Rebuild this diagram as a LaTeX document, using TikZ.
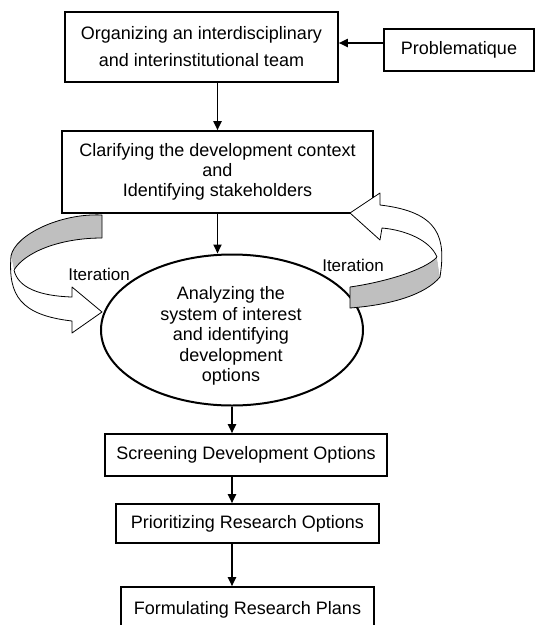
\documentclass[tikz,border=0pt]{standalone}
\usepackage{fontspec}
\setmainfont{Liberation Sans}
\usetikzlibrary{arrows.meta,shapes.geometric,calc}
\begin{document}
\begin{tikzpicture}[x=1pt,y=-1pt,
  box/.style={draw,line width=1.6pt,inner sep=0pt,align=center,font=\fontsize{18}{20}\selectfont},
  arr/.style={line width=1.8pt,-{Triangle[length=9pt,width=8pt]}},
  ribbon/.style={draw,line width=0.8pt,line join=round},
  shade/.style={fill=black!25},
  lbl/.style={font=\fontsize{17}{20}\selectfont,inner sep=0pt}]
\useasboundingbox (0,0) rectangle (535,625);
\clip (0,0) rectangle (535,625);

% boxes
\node[box,minimum width=273pt,minimum height=70pt,font=\fontsize{18}{27}\selectfont] (b1) at (201.5,47) {Organizing an interdisciplinary\\and interinstitutional team};
\node[box,minimum width=150pt,minimum height=42pt] (p) at (459,50) {Problematique};
\node[box,minimum width=311pt,minimum height=82pt] (b2) at (217.5,172) {Clarifying the development context\\and\\Identifying stakeholders};
\node[draw,ellipse,line width=2pt,minimum width=262pt,minimum height=151pt,inner sep=0pt] (e) at (232,330) {};
\node[align=center,inner sep=0pt,font=\fontsize{18}{20.5}\selectfont] (et) at (231,336) {Analyzing the\\system of interest\\and identifying\\development\\options};
\node[box,minimum width=282pt,minimum height=42pt] (b3) at (246,455) {Screening Development Options};
\node[box,minimum width=263pt,minimum height=39pt] (b4) at (247.5,523.5) {Prioritizing Research Options};
\node[box,minimum width=253pt,minimum height=45pt] (b5) at (247.5,609.5) {Formulating Research Plans};

% straight arrows
\draw[arr] ([yshift=4pt]p.west |- b1.east) -- ([yshift=4pt]b1.east);
\draw[arr] (b1.south -| b2.north) -- (b2.north);
\draw[arr] (b2.south) -- (b2.south |- e.north);
\draw[arr] (e.south) -- (e.south |- b3.north);
\draw[arr] (b3.south -| e.south) -- (b4.north -| e.south);
\draw[arr] (b4.south -| e.south) -- (b5.north -| e.south);

% left iteration ribbon
\fill[shade] (102,215) .. controls (60,213) and (15,235) .. (11,256) -- (14,270) .. controls (25,252) and (60,238) .. (102,238) -- cycle;
\draw[ribbon] (102,238) -- (102,215) .. controls (60,213) and (15,235) .. (11,256);
\draw[ribbon] (14,270) .. controls (25,252) and (60,238) .. (102,238);
\draw[ribbon,fill=white] (11,256) .. controls (8,295) and (20,315) .. (72,321) -- (72,333) -- (102,312) -- (72,287) -- (72,297) .. controls (40,296) and (18,288) .. (14,270);

% right iteration ribbon
\fill[shade] (350,287) .. controls (385,282) and (425,270) .. (437,257) -- (440,277) .. controls (425,295) and (390,305) .. (350,308) -- cycle;
\draw[ribbon] (350,287) .. controls (385,282) and (425,270) .. (437,257);
\draw[ribbon] (440,277) .. controls (425,295) and (390,305) .. (350,308) -- (350,287);
\draw[ribbon,fill=white] (440,277) .. controls (446,238) and (440,212) .. (380,205) -- (380,193) -- (350,213) -- (380,240) -- (382,228) .. controls (405,230) and (430,240) .. (437,257);

% labels
\node[lbl] (it1) at (99,274) {Iteration};
\node[lbl] (it2) at (353,265) {Iteration};
\end{tikzpicture}
\end{document}
